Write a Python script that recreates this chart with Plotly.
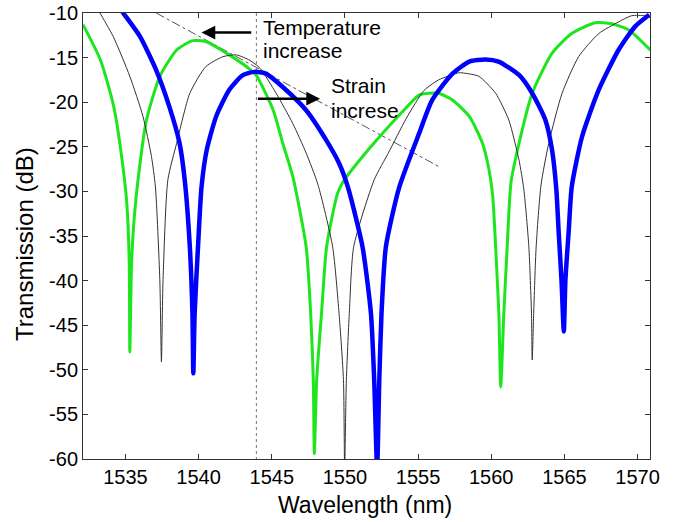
import plotly.graph_objects as go

# ---- data ----
green_x = [1532.1, 1533.3, 1534.2, 1534.85, 1535.1, 1535.26, 1535.3, 1535.42, 1535.6, 1535.86,
           1536.44, 1537.35, 1538.5, 1539.6, 1540.5, 1541.9, 1543.26, 1543.94, 1545.1, 1545.75,
           1546.44, 1547.35, 1547.66, 1547.84, 1547.91, 1548.07, 1548.4, 1548.75, 1549.5, 1549.96,
           1551.0, 1552.35, 1553.8, 1555.07, 1555.75, 1556.4, 1557.35, 1558.5, 1559.4, 1559.85,
           1560.1, 1560.3, 1560.52, 1560.65, 1560.86, 1561.09, 1561.35, 1561.9, 1562.8, 1564.16,
           1565.5, 1567.1, 1568.25, 1569.4, 1570.9]
green_y = [-11.3, -15.3, -20.5, -27.5, -31.5, -38.0, -48.0, -38.0, -33.0, -28.7,
           -22.0, -17.1, -14.15, -13.1, -13.2, -14.5, -16.0, -17.0, -20.9, -24.6,
           -28.35, -36.2, -43.7, -51.1, -59.4, -51.1, -43.7, -36.2, -30.2, -28.7,
           -26.5, -23.9, -21.3, -19.2, -19.0, -19.0, -19.75, -21.6, -24.6, -27.6,
           -30.5, -36.2, -43.7, -51.9, -43.7, -36.2, -29.0, -24.6, -19.0, -14.5,
           -12.3, -11.1, -11.2, -11.9, -14.2]

black_x = [1533.0, 1533.26, 1534.17, 1535.3, 1536.2, 1536.78, 1537.05, 1537.35, 1537.46, 1537.57,
           1537.9, 1538.5, 1539.4, 1540.5, 1541.66, 1542.58, 1543.5, 1544.2, 1545.3, 1546.44,
           1547.35, 1548.15, 1549.16, 1549.6, 1549.9, 1549.98, 1550.1, 1550.3, 1550.6, 1552.0,
           1553.0, 1554.2, 1555.4, 1556.4, 1557.8, 1558.2, 1559.16, 1560.3, 1561.2, 1561.9,
           1562.23, 1562.57, 1562.75, 1562.8, 1562.9, 1563.07, 1563.4, 1563.93, 1564.84, 1565.97,
           1567.35, 1568.7, 1569.6, 1570.5, 1570.9]
black_y = [-9.3, -10.0, -12.65, -17.1, -21.6, -26.1, -29.5, -39.9, -49.1, -39.9,
           -28.7, -24.6, -19.0, -16.0, -14.9, -14.7, -15.3, -16.2, -19.0, -22.4,
           -25.7, -29.2, -36.2, -43.7, -51.1, -61.0, -51.1, -43.7, -36.2, -28.7,
           -25.6, -21.8, -18.7, -17.5, -16.7, -16.75, -17.1, -19.0, -22.0, -26.5,
           -29.8, -36.2, -43.7, -48.9, -43.7, -36.2, -29.3, -24.6, -19.0, -14.9,
           -12.3, -11.0, -10.3, -10.3, -10.5]

blue_x = [1534.6, 1534.85, 1536.0, 1537.1, 1538.0, 1538.7, 1539.05, 1539.4, 1539.58, 1539.64,
          1539.73, 1539.96, 1540.2, 1540.55, 1541.2, 1542.1, 1543.0, 1543.8, 1544.6, 1545.75,
          1547.35, 1548.7, 1549.6, 1550.2, 1551.2, 1551.78, 1552.0, 1552.2, 1552.35, 1552.5,
          1552.8, 1553.7, 1555.07, 1555.97, 1557.35, 1558.5, 1559.6, 1560.5, 1561.9, 1562.8,
          1563.7, 1564.16, 1564.45, 1564.6, 1564.8, 1564.96, 1565.07, 1565.3, 1565.5, 1566.2,
          1567.35, 1568.7, 1569.84, 1570.8]
blue_y = [-9.4, -10.0, -12.65, -16.4, -20.5, -24.6, -28.7, -36.2, -43.7, -50.4,
          -43.7, -36.2, -29.5, -25.4, -21.6, -18.6, -17.0, -16.6, -16.8, -18.3,
          -20.9, -24.2, -26.85, -29.5, -36.2, -43.7, -51.1, -61.0, -51.1, -43.7,
          -36.2, -29.6, -23.5, -19.75, -16.8, -15.45, -15.2, -15.45, -16.95, -19.0,
          -22.0, -25.4, -29.8, -34.3, -39.9, -45.7, -39.9, -34.3, -29.5, -23.9,
          -18.6, -14.15, -11.5, -10.2]

# guide lines and arrows
trend_x = [1537.1, 1556.4]
trend_y = [-10.0, -27.2]
marker_x = [1543.95, 1543.95]
marker_y = [-10.0, -60.0]
temp_arrow_tail = (1543.7, -12.2)
temp_arrow_tip = (1540.2, -12.2)
strain_arrow_tail = (1543.95, -19.6)
strain_arrow_tip = (1548.3, -19.6)

x_ticks = [1535, 1540, 1545, 1550, 1555, 1560, 1565, 1570]
x_ticktext = ["1535", "1540", "1545", "1550", "1555", "1560", "1565", "1570"]
y_ticks = [-60, -55, -50, -45, -40, -35, -30, -25, -20, -15, -10]
y_ticktext = ["-60", "-55", "-50", "-45", "-40", "-35", "-30", "-25", "-20", "-15", "-10"]

FONT = "Liberation Sans, Arial, sans-serif"
SMOOTH = dict(shape="spline", smoothing=0.6)

fig = go.Figure()
fig.add_trace(go.Scatter(x=trend_x, y=trend_y, mode="lines",
                         line=dict(color="#555555", width=1, dash="dashdot"),
                         showlegend=False, hoverinfo="skip"))
fig.add_trace(go.Scatter(x=marker_x, y=marker_y, mode="lines",
                         line=dict(color="#777777", width=1, dash="dot"),
                         showlegend=False, hoverinfo="skip"))
fig.add_trace(go.Scatter(x=green_x, y=green_y, mode="lines",
                         line=dict(color="#1ee61e", width=3, **SMOOTH), showlegend=False))
fig.add_trace(go.Scatter(x=black_x, y=black_y, mode="lines",
                         line=dict(color="#333333", width=1, **SMOOTH), showlegend=False))
fig.add_trace(go.Scatter(x=blue_x, y=blue_y, mode="lines",
                         line=dict(color="#0000ff", width=4.5, **SMOOTH), showlegend=False))

annos = [
    dict(x=temp_arrow_tip[0], y=temp_arrow_tip[1], ax=temp_arrow_tail[0], ay=temp_arrow_tail[1],
         xref="x", yref="y", axref="x", ayref="y", showarrow=True, text="",
         arrowhead=2, arrowsize=1.1, arrowwidth=2.5, arrowcolor="black"),
    dict(x=strain_arrow_tip[0], y=strain_arrow_tip[1], ax=strain_arrow_tail[0], ay=strain_arrow_tail[1],
         xref="x", yref="y", axref="x", ayref="y", showarrow=True, text="",
         arrowhead=2, arrowsize=1.1, arrowwidth=2.5, arrowcolor="black"),
    dict(text="Wavelength (nm)", xref="paper", yref="paper", x=0.497, y=0,
         xanchor="center", yanchor="middle", yshift=-46, showarrow=False,
         font=dict(family=FONT, size=23, color="black")),
    dict(text="Transmission (dB)", xref="paper", yref="paper", x=0, y=0.482,
         xanchor="center", yanchor="middle", xshift=-59, textangle=-90, showarrow=False,
         font=dict(family=FONT, size=24, color="black")),
]
for txt, xx, yy in [("Temperature", 1544.25, -11.6), ("increase", 1544.25, -14.2),
                    ("Strain", 1548.9, -18.1), ("increse", 1548.9, -20.9)]:
    annos.append(dict(x=xx, y=yy, xref="x", yref="y", text=txt, showarrow=False,
                      xanchor="left", yanchor="middle",
                      font=dict(family=FONT, size=21, color="black")))

fig.update_layout(
    width=675, height=522,
    margin=dict(l=83, r=25, t=13, b=63),
    paper_bgcolor="white", plot_bgcolor="white",
    font=dict(family=FONT, color="black"),
    annotations=annos,
    xaxis=dict(range=[1532.1, 1570.85], tickvals=x_ticks, ticktext=x_ticktext,
               ticks="inside", ticklen=5, tickcolor="#333", showline=True, linecolor="#333",
               linewidth=1, mirror="ticks", showgrid=False, zeroline=False, automargin=False,
               tickfont=dict(size=20, family=FONT)),
    yaxis=dict(range=[-60, -10], tickvals=y_ticks, ticktext=y_ticktext,
               ticks="inside", ticklen=5, tickcolor="#333", showline=True, linecolor="#333",
               linewidth=1, mirror="ticks", showgrid=False, zeroline=False, automargin=False,
               tickfont=dict(size=20, family=FONT)),
)

# remove the default 8 px page margin so the figure sits at the window's corner
fig.write_html("out.html", config={"displayModeBar": False},
               post_script="document.body.style.margin='0px';")
